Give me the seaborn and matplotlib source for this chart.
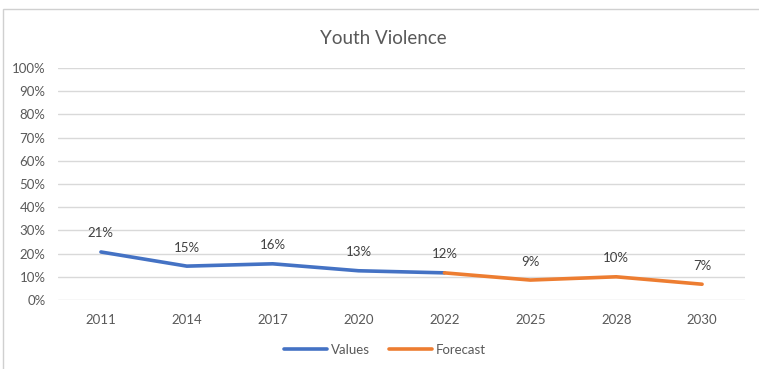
import matplotlib
matplotlib.use("Agg")
import matplotlib.pyplot as plt
import seaborn as sns
import pandas as pd
from matplotlib.patches import Rectangle
from matplotlib.lines import Line2D

years = ["2011", "2014", "2017", "2020", "2022", "2025", "2028", "2030"]
values_years = ["2011", "2014", "2017", "2020", "2022"]
values = [0.207, 0.146, 0.156, 0.126, 0.117]
forecast_years = ["2022", "2025", "2028", "2030"]
forecast = [0.117, 0.086, 0.100, 0.068]
yticks = [i / 10 for i in range(11)]

sns.set_theme(style="white")
plt.rcParams['font.family'] = ['Lato', 'DejaVu Sans']

df = pd.concat([
    pd.DataFrame({"Year": values_years, "Rate": values, "Series": "Values"}),
    pd.DataFrame({"Year": forecast_years, "Rate": forecast, "Series": "Forecast"}),
], ignore_index=True)
df["pos"] = df["Year"].map({y: i for i, y in enumerate(years)})

fig = plt.figure(figsize=(7.59, 3.69), dpi=100)
fig.patch.set_facecolor("white")
fig.patches.append(Rectangle((3 / 759, -0.05), 1.0, (369 - 9) / 369 + 0.05,
                             transform=fig.transFigure, fill=False,
                             edgecolor="#d0d0d0", linewidth=1.0))
ax = fig.add_axes([58 / 759, 1 - 300 / 369, (745 - 58) / 759, (300 - 68) / 369])

palette = {"Values": "#4472C4", "Forecast": "#ED7D31"}
sns.lineplot(data=df, x="pos", y="Rate", hue="Series", palette=palette,
             linewidth=2.6, ax=ax, sort=False, legend=False)

ax.set_xlim(-0.5, len(years) - 0.5)
ax.set_ylim(0, 1)
ax.set_yticks(yticks)
ax.set_yticklabels([f"{int(round(t * 100))}%" for t in yticks])
ax.set_xticks(range(len(years)))
ax.set_xticklabels(years)
ax.grid(axis="y", color="#d9d9d9", linewidth=1.0)
ax.grid(axis="x", visible=False)
for s in ax.spines.values():
    s.set_visible(False)
ax.tick_params(axis="both", length=0, colors="#595959", labelsize=9.5)
ax.tick_params(axis="y", pad=9)
ax.tick_params(axis="x", pad=10)
ax.set_xlabel("")
ax.set_ylabel("")

labels = {}
for y, v in zip(values_years, values):
    labels[y] = v
for y, v in zip(forecast_years, forecast):
    labels[y] = v
for y, v in labels.items():
    ax.annotate(f"{round(v * 100):.0f}%", (years.index(y), v), xytext=(0, 9),
                textcoords="offset points", ha="center", va="bottom",
                fontsize=9.5, color="#404040")

fig.text(383 / 759, 1 - 38 / 369, "Youth Violence", ha="center", va="center",
         fontsize=13.5, color="#595959")

handles = [Line2D([], [], color=palette[k], linewidth=2.6) for k in ["Values", "Forecast"]]
fig.legend(handles, ["Values", "Forecast"], loc="center", ncol=2,
           bbox_to_anchor=(385 / 759, 1 - 350 / 369), frameon=False,
           fontsize=9.5, handlelength=3.2, handletextpad=0.3, columnspacing=1.5,
           labelcolor="#595959")

fig.savefig("out.png", dpi=100, facecolor="white")
